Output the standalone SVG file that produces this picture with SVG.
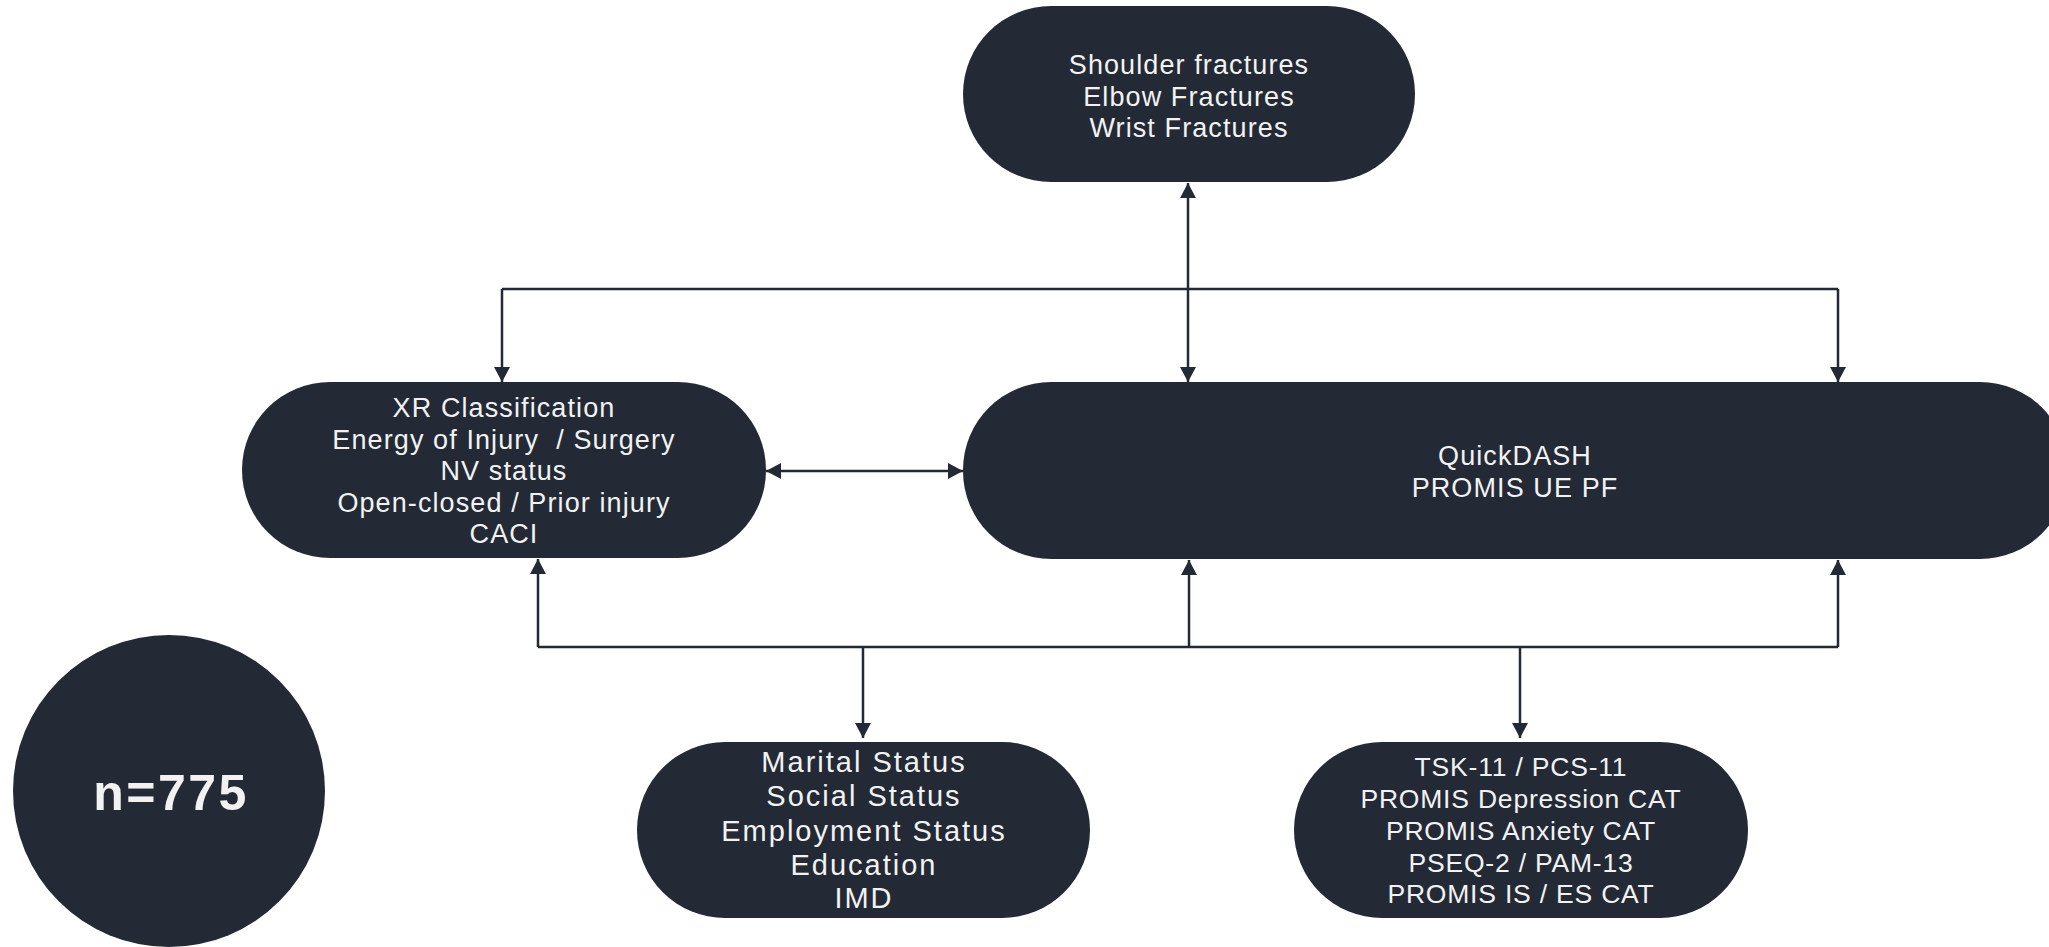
<svg xmlns="http://www.w3.org/2000/svg" width="2049" height="947" viewBox="0 0 2049 947">
  <style>
    .node { fill: #232a36; }
    .label { fill: #f2f2f2; font-family: "Liberation Sans", Arial, sans-serif; font-size: 27px; letter-spacing: 1.1px; text-anchor: middle; }
    .big { font-size: 29px; letter-spacing: 2px; }
    .mid { font-size: 26.5px; letter-spacing: 0.8px; }
    .count { fill: #f2f2f2; font-family: "Liberation Sans", Arial, sans-serif; font-weight: 700; font-size: 50px; letter-spacing: 2.5px; text-anchor: middle; }
    .wire { fill: none; stroke: #232a36; stroke-width: 2.5; }
  </style>
  <defs>
    <marker id="arrow" viewBox="0 0 15 16" refX="15" refY="8" markerWidth="15" markerHeight="16" markerUnits="userSpaceOnUse" orient="auto-start-reverse">
      <path d="M0,0 L15,8 L0,16 z" fill="#232a36"/>
    </marker>
  </defs>

  <!-- connectors -->
  <g id="connectors" class="wire">
    <!-- top node <-> main outcome node -->
    <path d="M1188,183 V382" marker-start="url(#arrow)" marker-end="url(#arrow)"/>
    <!-- distribution bar across the middle row -->
    <path d="M502,289 H1838"/>
    <path d="M502,289 V382" marker-end="url(#arrow)"/>
    <path d="M1838,289 V382" marker-end="url(#arrow)"/>
    <!-- injury factors <-> outcomes -->
    <path d="M766,471 H963" marker-start="url(#arrow)" marker-end="url(#arrow)"/>
    <!-- lower collector bar -->
    <path d="M538,647 H1838"/>
    <path d="M538,647 V559" marker-end="url(#arrow)"/>
    <path d="M1189,647 V560" marker-end="url(#arrow)"/>
    <path d="M1838,647 V560" marker-end="url(#arrow)"/>
    <path d="M863,647 V738" marker-end="url(#arrow)"/>
    <path d="M1520,647 V738" marker-end="url(#arrow)"/>
  </g>

  <g id="fractures">
    <rect class="node" x="963" y="6" width="452" height="176" rx="88"/>
    <text class="label" x="1189" y="74">Shoulder fractures</text>
    <text class="label" x="1189" y="106">Elbow Fractures</text>
    <text class="label" x="1189" y="137">Wrist Fractures</text>
  </g>

  <g id="injury">
    <rect class="node" x="242" y="382" width="524" height="176" rx="88"/>
    <text class="label" x="504" y="417">XR Classification</text>
    <text class="label" x="504" y="449" xml:space="preserve">Energy of Injury  / Surgery</text>
    <text class="label" x="504" y="480">NV status</text>
    <text class="label" x="504" y="512">Open-closed / Prior injury</text>
    <text class="label" x="504" y="543">CACI</text>
  </g>

  <g id="outcomes">
    <rect class="node" x="963" y="382" width="1105" height="177" rx="88"/>
    <text class="label" x="1515" y="465">QuickDASH</text>
    <text class="label" x="1515" y="497">PROMIS UE PF</text>
  </g>

  <g id="social">
    <rect class="node" x="637" y="742" width="453" height="176" rx="88"/>
    <text class="label big" x="864" y="772">Marital Status</text>
    <text class="label big" x="864" y="806">Social Status</text>
    <text class="label big" x="864" y="841">Employment Status</text>
    <text class="label big" x="864" y="875">Education</text>
    <text class="label big" x="864" y="908">IMD</text>
  </g>

  <g id="psych">
    <rect class="node" x="1294" y="742" width="454" height="176" rx="88"/>
    <text class="label mid" x="1521" y="776">TSK-11 / PCS-11</text>
    <text class="label mid" x="1521" y="808">PROMIS Depression CAT</text>
    <text class="label mid" x="1521" y="840">PROMIS Anxiety CAT</text>
    <text class="label mid" x="1521" y="872">PSEQ-2 / PAM-13</text>
    <text class="label mid" x="1521" y="903">PROMIS IS / ES CAT</text>
  </g>

  <g id="cohort">
    <circle class="node" cx="169" cy="791" r="156"/>
    <text class="count" x="171" y="810">n=775</text>
  </g>
</svg>
